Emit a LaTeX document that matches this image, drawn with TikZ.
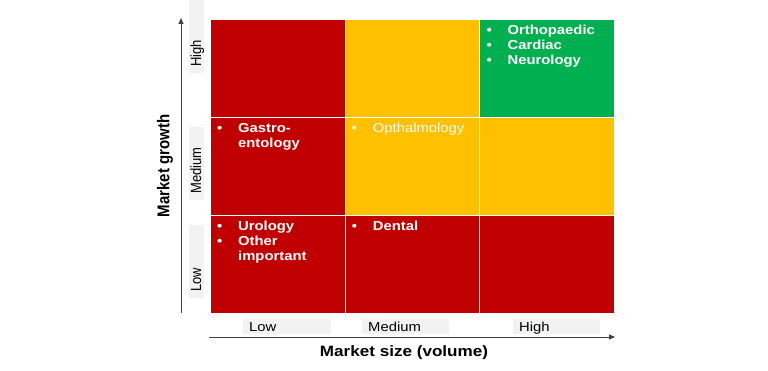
\documentclass[tikz,border=0pt]{standalone}
\usepackage{fontspec}
\setmainfont[FakeStretch=1.14]{Liberation Sans}
\newfontfamily\uprightfont{Liberation Sans}
\usetikzlibrary{arrows.meta,positioning}
\definecolor{cellred}{HTML}{C00000}
\definecolor{cellyellow}{HTML}{FFC000}
\definecolor{cellgreen}{HTML}{00B050}
\definecolor{tickgray}{HTML}{F2F2F2}
\definecolor{axisgray}{HTML}{404040}
\tikzset{
  cell/.style={fill=#1,draw=white,line width=0.7pt,minimum width=134.7pt,minimum height=98pt,inner sep=0pt,anchor=north west},
  items/.style={anchor=north west,text=white,inner sep=0pt,align=left,font=\fontsize{13}{15}\selectfont},
  ticklbl/.style={fill=tickgray,anchor=base west,align=left,inner xsep=6pt,inner ysep=2.75pt,text height=9.5pt,text depth=0pt,font=\fontsize{13}{15}\selectfont},
  axisttl/.style={font=\bfseries\fontsize{15}{18}\selectfont},
  axisline/.style={draw=axisgray,line width=0.8pt,-{Triangle[length=6pt,width=5pt]}}
}
\newcommand{\itm}[1]{\makebox[21pt][l]{\textbullet}#1}
\newcommand{\cont}[1]{\hspace*{21pt}#1}
\newcommand{\upr}[1]{\scalebox{1}[1.14]{\uprightfont #1}}
\begin{document}
\begin{tikzpicture}[x=1pt,y=-1pt]
\useasboundingbox (0,0) rectangle (768,371);
% cells: column = market size, row = market growth
\node[cell=cellred] (lohi) at (210,19) {};
\node[cell=cellyellow] (mdhi) at (344.7,19) {};
\node[cell=cellgreen] (hihi) at (479.4,19) {};
\node[cell=cellred] (lomd) at (210,117) {};
\node[cell=cellyellow] (mdmd) at (344.7,117) {};
\node[cell=cellyellow] (himd) at (479.4,117) {};
\node[cell=cellred] (lolo) at (210,215) {};
\node[cell=cellred] (mdlo) at (344.7,215) {};
\node[cell=cellred] (hilo) at (479.4,215) {};
% cell contents
\node[items,font=\bfseries\fontsize{13}{15}\selectfont] (hihitxt) at ([shift={(7,6)}]hihi.north west)
  {\itm{Orthopaedic}\\ \itm{Cardiac}\\ \itm{Neurology}};
\node[items,font=\bfseries\fontsize{13}{15}\selectfont] (lomdtxt) at ([shift={(7,6)}]lomd.north west)
  {\itm{Gastro-}\\ \cont{entology}};
\node[items] (mdmdtxt) at ([shift={(7,6)}]mdmd.north west) {\itm{Opthalmology}};
\node[items,font=\bfseries\fontsize{13}{15}\selectfont] (lolotxt) at ([shift={(7,6)}]lolo.north west)
  {\itm{Urology}\\ \itm{Other}\\ \cont{important}};
\node[items,font=\bfseries\fontsize{13}{15}\selectfont] (mdlotxt) at ([shift={(7,6)}]mdlo.north west) {\itm{Dental}};
% axes
\coordinate (yfoot) at (181,313);
\coordinate (ytip) at (181,18);
\coordinate (xfoot) at (209,337);
\coordinate (xtip) at (615,337);
\draw[axisline] (yfoot) -- (ytip);
\draw[axisline] (xfoot) -- (xtip);
% tick labels
\node[ticklbl,text width=76pt] (xlo) at (243,331) {Low};
\node[ticklbl,text width=75pt] (xmd) at (362,331) {Medium};
\node[ticklbl,text width=75pt] (xhi) at (513,331) {High};
\node[ticklbl,rotate=90,text width=61pt] (yhi) at (201,73) {\upr{High}};
\node[ticklbl,rotate=90,text width=61pt] (ymd) at (201,200) {\upr{Medium}};
\node[ticklbl,rotate=90,text width=61pt] (ylo) at (201,298) {\upr{Low}};
% axis titles
\node[axisttl,rotate=90] (ytitle) at (165,166) {\upr{Market growth}};
\node[axisttl] (xtitle) at (404,353) {Market size (volume)};
\end{tikzpicture}
\end{document}
